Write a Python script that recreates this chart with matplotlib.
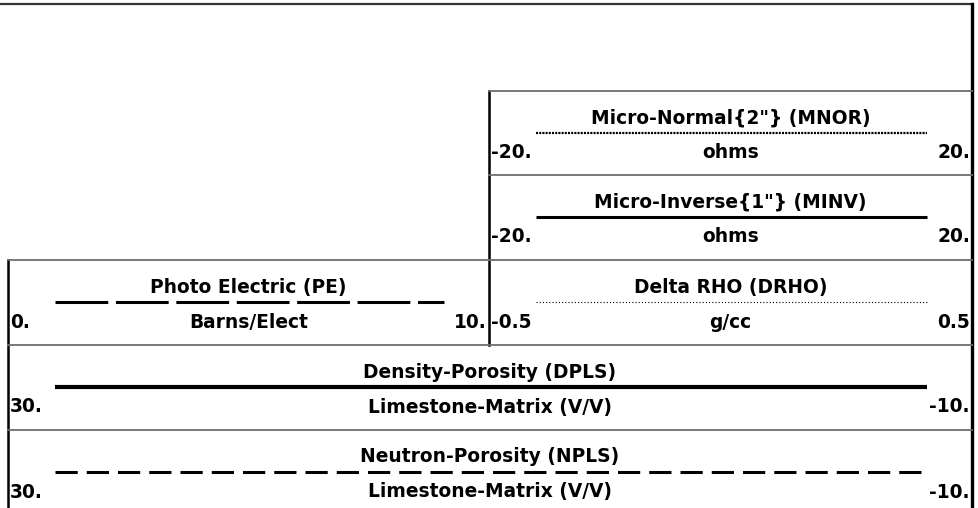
import matplotlib.pyplot as plt

plt.rcParams['lines.scale_dashes'] = False

# curve header data
titles = ['Micro-Normal{2"} (MNOR)', 'Micro-Inverse{1"} (MINV)', 'Photo Electric (PE)',
          'Delta RHO (DRHO)', 'Density-Porosity (DPLS)', 'Neutron-Porosity (NPLS)']
units = ['ohms', 'ohms', 'Barns/Elect', 'g/cc',
         'Limestone-Matrix (V/V)', 'Limestone-Matrix (V/V)']
left_vals = ['-20.', '-20.', '0.', '-0.5', '30.', '30.']
right_vals = ['20.', '20.', '10.', '0.5', '-10.', '-10.']

# cell layout in pixels: (x0, x1, y_top)
cells = [(489, 972, 91), (489, 972, 175), (8, 489, 260),
         (489, 972, 260), (8, 972, 345), (8, 972, 430)]
# line styles for each curve: (linewidth, dashes or None)
styles = [(1.6, (1.5, 0.8)), (2.2, None), (2.2, (38, 5.5)),
          (0.8, (0.8, 1.5)), (3.0, None), (2.2, (16, 6.5))]

fig = plt.figure(figsize=(9.79, 5.08), dpi=100)
ax = fig.add_axes([0, 0, 1, 1])
ax.set_xlim(0, 979)
ax.set_ylim(508, 0)
ax.axis('off')

gray = '#6e6e6e'
font = dict(family='DejaVu Sans', fontweight='bold', fontsize=13.4, color='black')

# frame lines
ax.plot([0, 972], [4, 4], color='#333333', lw=1.6)
ax.plot([972, 972], [4, 508], color='black', lw=2.4)
ax.plot([489, 489], [91, 345], color='black', lw=1.8)
ax.plot([8, 8], [260, 508], color='black', lw=1.8)

for i, (x0, x1, y0) in enumerate(cells):
    ax.plot([x0, x1], [y0, y0], color=gray, lw=1.3)
    xc = (x0 + x1) / 2
    ax.text(xc, y0 + 27, titles[i], ha='center', va='center', **font)
    lw, dash = styles[i]
    ln, = ax.plot([x0 + 47, x1 - 45], [y0 + 42, y0 + 42], color='black', lw=lw,
                  solid_capstyle='butt', dash_capstyle='butt')
    if dash is not None:
        ln.set_dashes(dash)
    ax.text(xc, y0 + 62, units[i], ha='center', va='center', **font)
    ax.text(x0 + 2, y0 + 62, left_vals[i], ha='left', va='center', **font)
    ax.text(x1 - 2, y0 + 62, right_vals[i], ha='right', va='center', **font)

fig.savefig('out.png', dpi=100)
